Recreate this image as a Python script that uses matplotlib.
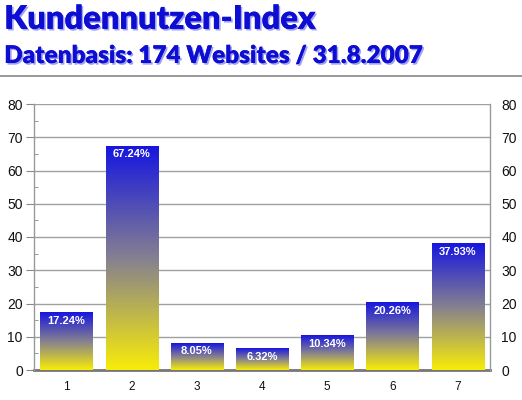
import numpy as np
import matplotlib
matplotlib.use("Agg")
import matplotlib.pyplot as plt
import matplotlib.patheffects as pe
from matplotlib.colors import LinearSegmentedColormap

# data
categories = ["1", "2", "3", "4", "5", "6", "7"]
values = [17.24, 67.24, 8.05, 6.32, 10.34, 20.26, 37.93]
labels = ["17.24%", "67.24%", "8.05%", "6.32%", "10.34%", "20.26%", "37.93%"]
y_ticks = [0, 10, 20, 30, 40, 50, 60, 70, 80]

title = "Kundennutzen-Index"
subtitle = "Datenbasis: 174 Websites / 31.8.2007"

fig = plt.figure(figsize=(5.22, 4.0), dpi=100)
fig.patch.set_facecolor("white")

# header with soft blue shadow
shadow = [pe.withSimplePatchShadow(offset=(1.2, -1.2), shadow_rgbFace="#7a7aee", alpha=0.7),
          pe.Normal()]
fig.text(0.008, 0.928, title, fontsize=23.5, fontweight="heavy", family="Lato",
         color="#0e0ed2", va="baseline", ha="left", path_effects=shadow)
fig.text(0.008, 0.8425, subtitle, fontsize=17.5, fontweight="heavy", family="Lato",
         color="#0e0ed2", va="baseline", ha="left", path_effects=shadow)
fig.add_artist(plt.Line2D([0, 1], [0.81, 0.81], color="#888888", lw=1.2))

ax = fig.add_axes([0.065, 0.075, 0.874, 0.665])
x = np.arange(1, len(categories) + 1)
width = 0.8

cmap = LinearSegmentedColormap.from_list("by", ["#f8ec08", "#858090", "#1616e0"])
grad = np.linspace(0, 1, 256).reshape(-1, 1)

for xi, v, lab in zip(x, values, labels):
    ax.imshow(grad, cmap=cmap, origin="lower", aspect="auto",
              extent=[xi - width / 2, xi + width / 2, 0, v], zorder=2)
    ax.text(xi, v - 0.9, lab, ha="center", va="top", color="white",
            fontsize=8, fontweight="bold", family="Liberation Sans", zorder=4)

ax.set_xlim(0.5, len(categories) + 0.5)
ax.set_ylim(0, 80)
ax.set_xticks(x)
ax.set_xticklabels(categories)
ax.set_yticks(y_ticks)
ax.set_yticks(np.arange(5, 80, 10), minor=True)
ax.grid(axis="y", color="#a0a0a0", lw=1.0, zorder=0)
ax.set_axisbelow(True)

for side in ["left", "right"]:
    ax.spines[side].set_color("#999999")
    ax.spines[side].set_linewidth(1.0)
ax.spines["top"].set_visible(False)
ax.spines["bottom"].set_color("#777777")
ax.spines["bottom"].set_linewidth(2.0)
ax.spines["bottom"].set_zorder(1)

ax.tick_params(axis="y", which="major", length=6, color="#888888", labelsize=10,
               labelright=True, right=False, pad=2)
ax.tick_params(axis="y", which="minor", length=3, direction="in", color="#888888")
ax.tick_params(axis="x", length=0, labelsize=8.5, pad=8)
for t in ax.get_yticklabels() + ax.get_xticklabels():
    t.set_family("Liberation Sans")
    t.set_color("#111111")

fig.savefig("out.png", dpi=100)
